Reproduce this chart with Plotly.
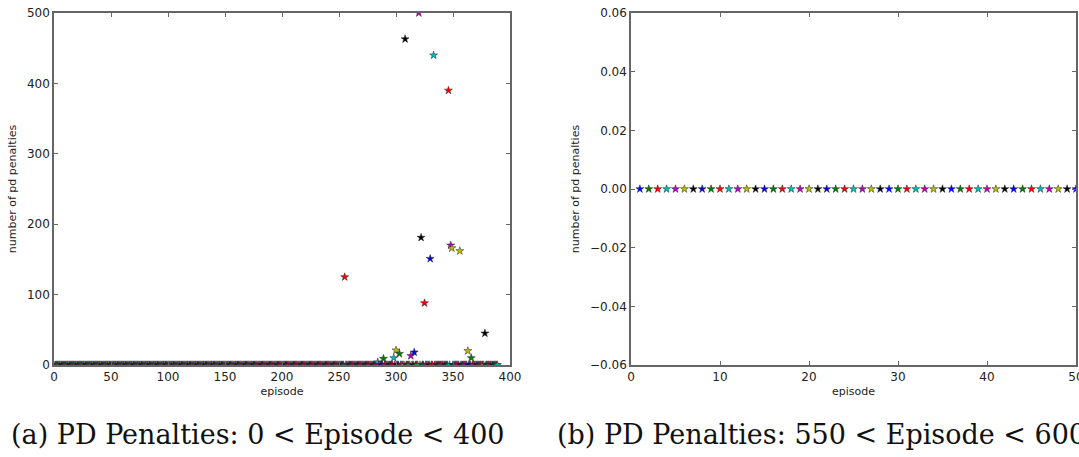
import plotly.graph_objects as go

# ---------------- data ----------------
# Panel (a): episodes 1..389, penalties are zero except these spikes
episodes_a = list(range(1, 390))
spike_episodes_a = [255, 284, 289, 298, 300, 303, 308, 313, 316, 320, 322, 325,
                    330, 333, 346, 348, 349, 356, 363, 366, 378]
spike_values_a = [125, 4, 9, 10, 21, 16, 463, 13, 18, 500, 181, 88,
                  151, 440, 390, 170, 166, 162, 20, 10, 45]
penalties_a = [0] * len(episodes_a)
for e, v in zip(spike_episodes_a, spike_values_a):
    penalties_a[episodes_a.index(e)] = v

# Panel (b): episodes 1..50, all zero
episodes_b = list(range(1, 51))
penalties_b = [0] * len(episodes_b)

xticks_a = [0, 50, 100, 150, 200, 250, 300, 350, 400]
yticks_a = [0, 100, 200, 300, 400, 500]
xticks_b = [0, 10, 20, 30, 40, 50]
yticks_b = [-0.06, -0.04, -0.02, 0.0, 0.02, 0.04, 0.06]
ytick_text_b = ["\u22120.06", "\u22120.04", "\u22120.02", "0.00", "0.02", "0.04", "0.06"]

captions = ["(a) PD Penalties: 0 < Episode < 400",
            "(b) PD Penalties: 550 < Episode < 600"]

# matplotlib classic colour cycle b, g, r, c, m, y, k
cycle = ["#0000ff", "#008000", "#ff0000", "#00bfbf", "#bf00bf", "#bfbf00", "#000000"]

W, H = 1079, 457

def px(x):
    return x / W

def py(y):
    return 1 - y / H

fig = go.Figure()

fig.add_trace(go.Scatter(
    x=episodes_a, y=penalties_a, mode="markers", xaxis="x", yaxis="y",
    marker=dict(symbol="star", size=6,
                color=[cycle[i % 7] for i in range(len(episodes_a))],
                line=dict(color="#222222", width=0.5)),
    showlegend=False, hoverinfo="x+y"))

fig.add_trace(go.Scatter(
    x=episodes_b, y=penalties_b, mode="markers", xaxis="x2", yaxis="y2",
    marker=dict(symbol="star", size=6,
                color=[cycle[i % 7] for i in range(len(episodes_b))],
                line=dict(color="#222222", width=0.5)),
    showlegend=False, hoverinfo="x+y"))

axis_common = dict(showgrid=False, zeroline=False, showline=True, linecolor="#666666",
                   linewidth=1.5, mirror="ticks", ticks="inside", ticklen=4,
                   tickcolor="#666666", tickwidth=1, automargin=False,
                   ticklabeloverflow="allow",
                   tickfont=dict(family="DejaVu Sans", size=12, color="#222222"))

title_font = dict(family="DejaVu Sans", size=11, color="#222222")
caption_font = dict(family="DejaVu Serif", size=27, color="#111111")

fig.update_layout(
    width=W, height=H,
    margin=dict(l=0, r=0, t=0, b=0),
    paper_bgcolor="white", plot_bgcolor="white",
    xaxis=dict(domain=[px(54), px(510)], range=[0, 400], tickvals=xticks_a,
               anchor="y",
               title=dict(text="episode", font=title_font, standoff=4),
               **axis_common),
    yaxis=dict(domain=[py(365), py(13)], range=[0, 500], tickvals=yticks_a,
               anchor="x",
               title=dict(text="number of pd penalties", font=title_font, standoff=8),
               **axis_common),
    xaxis2=dict(domain=[px(631), px(1076)], range=[0, 50], tickvals=xticks_b,
                anchor="y2",
                title=dict(text="episode", font=title_font, standoff=4),
                **axis_common),
    yaxis2=dict(domain=[py(365), py(13)], range=[-0.06, 0.06], tickvals=yticks_b,
                ticktext=ytick_text_b, anchor="x2",
                title=dict(text="number of pd penalties", font=title_font, standoff=8),
                **axis_common),
    annotations=[
        dict(text=captions[0], x=px(258), y=py(434), xref="paper", yref="paper",
             xanchor="center", yanchor="middle", showarrow=False, font=caption_font),
        dict(text=captions[1], x=px(555), y=py(434), xref="paper", yref="paper",
             xanchor="left", yanchor="middle", showarrow=False, font=caption_font),
    ],
)

fig.write_html("out.html")
